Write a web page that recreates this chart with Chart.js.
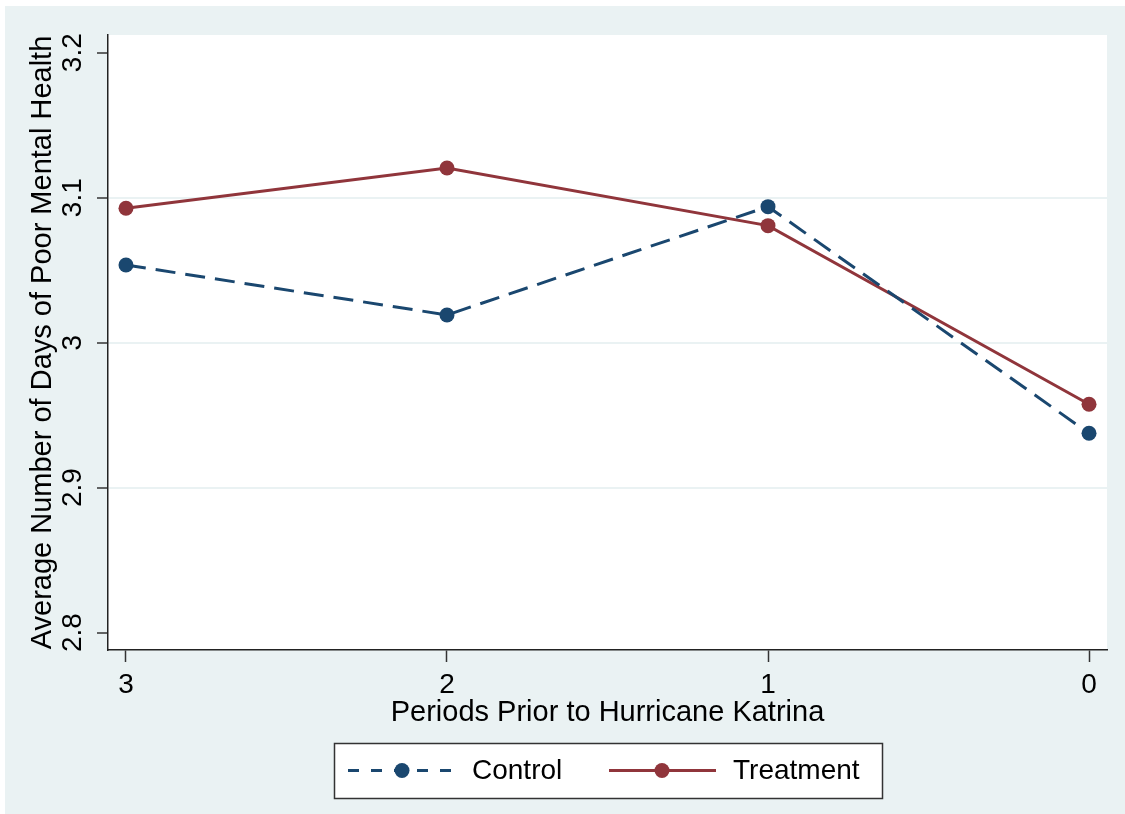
<!DOCTYPE html>
<html><head><meta charset="utf-8">
<script src="https://cdn.jsdelivr.net/npm/chart.js@4.4.1/dist/chart.umd.min.js"></script>
<style>html,body{margin:0;padding:0;background:#fff;overflow:hidden}</style>
</head><body>
<canvas id="c" width="1125" height="814" style="display:block;width:1125px;height:814px"></canvas>
<script>
const periods = [3, 2, 1, 0];
const controlValues = [3.0536, 3.0191, 3.0938, 2.9375];
const treatmentValues = [3.0927, 3.1205, 3.0807, 2.9575];
const xTickValues = [3, 2, 1, 0];
const xTickLabels = ['3', '2', '1', '0'];
const yTickValues = [2.8, 2.9, 3.0, 3.1, 3.2];
const yTickLabels = ['2.8', '2.9', '3', '3.1', '3.2'];
const seriesNames = ['Control', 'Treatment'];
const xTitle = 'Periods Prior to Hurricane Katrina';
const yTitle = 'Average Number of Days of Poor Mental Health';

const FONT = 'Liberation Sans, Arial, Helvetica, sans-serif';
const BG = '#EAF2F3';
const NAVY = '#1A476F';
const MAROON = '#90353B';

const bgPlugin = {
  id: 'bg',
  beforeDraw(chart) {
    const ctx = chart.ctx, a = chart.chartArea;
    ctx.save();
    ctx.fillStyle = '#ffffff';
    ctx.fillRect(0, 0, chart.width, chart.height);
    ctx.fillStyle = BG;
    ctx.fillRect(5, 6, chart.width - 5, chart.height - 6);
    ctx.fillStyle = '#ffffff';
    ctx.fillRect(a.left, a.top, a.right - a.left, a.bottom - a.top);
    ctx.restore();
  }
};

const legendPlugin = {
  id: 'stataLegend',
  afterDraw(chart) {
    const ctx = chart.ctx, a = chart.chartArea;
    const w = 548, h = 55;
    const left = Math.round((a.left + a.right) / 2 - w / 2);
    const top = 743;
    const cy = top + h / 2;
    ctx.save();
    ctx.fillStyle = '#ffffff';
    ctx.fillRect(left, top, w, h);
    ctx.strokeStyle = '#333333';
    ctx.lineWidth = 1.5;
    ctx.strokeRect(left + 0.5, top + 0.5, w, h);
    const items = [
      {ds: chart.data.datasets[0], l0: 14, l1: 122, m: 68, t: 138, dash: [11, 12]},
      {ds: chart.data.datasets[1], l0: 275, l1: 382, m: 328, t: 399, dash: []}
    ];
    items.forEach(it => {
      ctx.strokeStyle = it.ds.borderColor;
      ctx.lineWidth = 3;
      ctx.setLineDash(it.dash);
      ctx.beginPath();
      ctx.moveTo(left + it.l0, cy);
      ctx.lineTo(left + it.l1, cy);
      ctx.stroke();
      ctx.setLineDash([]);
      ctx.fillStyle = it.ds.pointBackgroundColor;
      ctx.beginPath();
      ctx.arc(left + it.m, cy, 7.5, 0, Math.PI * 2);
      ctx.fill();
      ctx.fillStyle = '#000';
      ctx.font = '28px ' + FONT;
      ctx.textBaseline = 'middle';
      ctx.textAlign = 'left';
      ctx.fillText(it.ds.label, left + it.t, cy + 1);
    });
    ctx.restore();
  }
};

new Chart(document.getElementById('c'), {
  type: 'line',
  data: {
    datasets: [
      {
        label: seriesNames[0],
        data: periods.map((p, i) => ({x: p, y: controlValues[i]})),
        borderColor: NAVY, backgroundColor: NAVY,
        pointBackgroundColor: NAVY, pointBorderWidth: 0, pointRadius: 7.5,
        borderWidth: 3, borderDash: [20, 10], tension: 0, fill: false
      },
      {
        label: seriesNames[1],
        data: periods.map((p, i) => ({x: p, y: treatmentValues[i]})),
        borderColor: MAROON, backgroundColor: MAROON,
        pointBackgroundColor: MAROON, pointBorderWidth: 0, pointRadius: 7.5,
        borderWidth: 3, tension: 0, fill: false
      }
    ]
  },
  options: {
    responsive: false,
    animation: false,
    devicePixelRatio: 1,
    layout: {padding: {left: 0, top: 35, right: 18, bottom: 0}},
    plugins: {legend: {display: false}, tooltip: {enabled: false}},
    scales: {
      x: {
        type: 'linear',
        reverse: true,
        min: -0.056, max: 3.056,
        afterBuildTicks: s => { s.ticks = xTickValues.map(v => ({value: v})); },
        afterFit: s => { s.height = 164; },
        ticks: {
          autoSkip: false, maxRotation: 0, minRotation: 0, padding: 6,
          color: '#000', font: {family: FONT, size: 28},
          callback: (v) => xTickLabels[xTickValues.indexOf(v)]
        },
        grid: {drawOnChartArea: false, drawTicks: true, tickLength: 12, tickColor: '#333', tickWidth: 1.5},
        border: {display: true, color: '#222', width: 1.5},
        title: {display: true, text: xTitle, color: '#000', font: {family: FONT, size: 29}, padding: {top: 0, bottom: 84}}
      },
      y: {
        type: 'linear',
        min: 2.788, max: 3.2122,
        afterBuildTicks: s => { s.ticks = yTickValues.map(v => ({value: v})); },
        afterFit: s => { s.width = 108; },
        ticks: {
          autoSkip: false, minRotation: 90, maxRotation: 90, crossAlign: 'center', padding: 4,
          color: '#000', font: {family: FONT, size: 28},
          callback: (v) => yTickLabels[yTickValues.indexOf(v)]
        },
        grid: {
          color: c => (c.tick && (c.tick.value === 3.2 || c.tick.value === 2.8)) ? 'rgba(0,0,0,0)' : BG,
          lineWidth: 2, drawTicks: true, tickLength: 11, tickColor: '#333', tickWidth: 1.5
        },
        border: {display: true, color: '#222', width: 1.5},
        title: {display: true, text: yTitle, color: '#000', font: {family: FONT, size: 29}, padding: {top: 26, bottom: 0}}
      }
    }
  },
  plugins: [bgPlugin, legendPlugin]
});
</script>
</body></html>
